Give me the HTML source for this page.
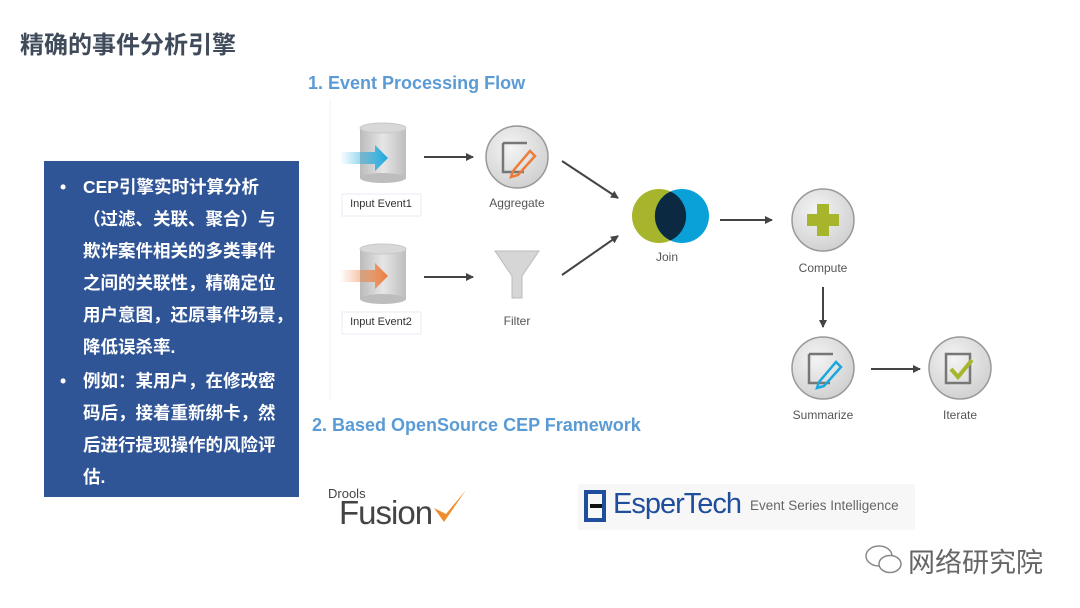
<!DOCTYPE html>
<html><head><meta charset="utf-8"><style>
*{margin:0;padding:0}
body{width:1080px;height:608px;background:#fff;position:relative;overflow:hidden;font-family:"Liberation Sans","Noto Sans CJK SC",sans-serif}
.a{position:absolute;white-space:nowrap}
.t{font-size:24px;font-weight:bold;color:#3f4a5a}
.h{font-size:18px;font-weight:bold;color:#5b9bd5}
.bl{font-size:17.5px;font-weight:bold;color:#fff;line-height:32px}
.lb{font-size:12px;color:#555;transform:translateX(-50%)}
</style></head><body>
<div class="a t" style="left:20px;top:25px">精确的事件分析引擎</div>
<div class="a" style="left:44px;top:161px;width:255px;height:336px;background:#2f5597"></div>
<div class="a bl" style="left:60px;top:171px">•</div>
<div class="a bl" style="left:60px;top:365px">•</div>
<div class="a bl" style="left:83px;top:171px">CEP引擎实时计算分析<br>（过滤、关联、聚合）与<br>欺诈案件相关的多类事件<br>之间的关联性，精确定位<br>用户意图，还原事件场景，<br>降低误杀率.</div>
<div class="a bl" style="left:83px;top:365px">例如：某用户，在修改密<br>码后，接着重新绑卡，然<br>后进行提现操作的风险评<br>估.</div>
<div class="a h" style="left:308px;top:73px">1. Event Processing Flow</div>
<div class="a h" style="left:312px;top:415px">2. Based OpenSource CEP Framework</div>
<svg class="a" style="left:0;top:0" width="1080" height="608">
<defs>
<linearGradient id="cy" x1="0" x2="1"><stop offset="0" stop-color="#bbb"/><stop offset=".5" stop-color="#e6e6e6"/><stop offset="1" stop-color="#bdbdbd"/></linearGradient>
<radialGradient id="ci" cx=".4" cy=".35" r=".7"><stop offset="0" stop-color="#f4f4f4"/><stop offset="1" stop-color="#cfcfcf"/></radialGradient>
<linearGradient id="bA" x1="0" x2="1"><stop offset="0" stop-color="#1aa7dd" stop-opacity="0"/><stop offset="1" stop-color="#1aa7dd"/></linearGradient>
<linearGradient id="oA" x1="0" x2="1"><stop offset="0" stop-color="#ec7c3a" stop-opacity="0"/><stop offset="1" stop-color="#ec7c3a"/></linearGradient>
<marker id="m" markerWidth="8" markerHeight="8" refX="7" refY="4" orient="auto" markerUnits="userSpaceOnUse"><path d="M0,0 L8,4 L0,8z" fill="#444"/></marker>
</defs>
<line x1="330" y1="100" x2="330" y2="400" stroke="#f0f0f0"/>
<g><rect x="360" y="128" width="46" height="50" fill="url(#cy)"/><ellipse cx="383" cy="178" rx="23" ry="5" fill="#bdbdbd"/><ellipse cx="383" cy="128" rx="23" ry="5" fill="#d8d8d8" stroke="#c8c8c8"/></g>
<g><rect x="360" y="249" width="46" height="50" fill="url(#cy)"/><ellipse cx="383" cy="299" rx="23" ry="5" fill="#bdbdbd"/><ellipse cx="383" cy="249" rx="23" ry="5" fill="#d8d8d8" stroke="#c8c8c8"/></g>
<path d="M340,152 H375 V145 L388,158 L375,171 V164 H340z" fill="url(#bA)"/>
<path d="M340,270 H375 V263 L388,276 L375,289 V282 H340z" fill="url(#oA)"/>
<rect x="342" y="194" width="79" height="22" fill="#fff" stroke="#e6eef6"/>
<rect x="342" y="312" width="79" height="22" fill="#fff" stroke="#e6eef6"/>
<g stroke="#444" stroke-width="2" marker-end="url(#m)">
<line x1="424" y1="157" x2="473" y2="157"/><line x1="424" y1="277" x2="473" y2="277"/>
<line x1="562" y1="161" x2="618" y2="198"/><line x1="562" y1="275" x2="618" y2="236"/>
<line x1="720" y1="220" x2="772" y2="220"/><line x1="823" y1="287" x2="823" y2="327"/>
<line x1="871" y1="369" x2="920" y2="369"/>
</g>
<g stroke="#999" stroke-width="1.5" fill="url(#ci)">
<circle cx="517" cy="157" r="31"/><circle cx="823" cy="220" r="31"/><circle cx="823" cy="368" r="31"/><circle cx="960" cy="368" r="31"/>
</g>
<g fill="none" stroke="#777" stroke-width="2.5">
<path d="M503,143 H527 M503,143 V172 H524"/><path d="M809,354 H833 M809,354 V383 H830"/><path d="M946,354 H970 V383 H946z"/>
</g>
<path d="M513,171 L530,151 L535,156 L518,175 L511,177z" fill="none" stroke="#ec7c3a" stroke-width="2.5"/>
<path d="M819,382 L836,362 L841,367 L824,386 L817,388z" fill="none" stroke="#1aa7dd" stroke-width="2.5"/>
<path d="M951,369 L958,377 L972,360" fill="none" stroke="#a7b52c" stroke-width="4"/>
<path d="M817,204 h12 v10 h10 v12 h-10 v10 h-12 v-10 h-10 v-12 h10z" fill="#a7b52c"/>
<path d="M495,251 H539 L522,276 V298 H512 V276z" fill="#d6d6d6" stroke="#bbb"/>
<circle cx="659" cy="216" r="27" fill="#a7b52c"/><circle cx="682" cy="216" r="27" fill="#0aa0d8"/>
<path d="M670.5,191.5 A27,27 0 0 1 670.5,240.5 A27,27 0 0 1 670.5,191.5z" fill="#0b2a42"/>
</svg>
<div class="a lb" style="left:381px;top:198px;font-size:11px;color:#333">Input Event1</div>
<div class="a lb" style="left:381px;top:316px;font-size:11px;color:#333">Input Event2</div>
<div class="a lb" style="left:517px;top:196px">Aggregate</div>
<div class="a lb" style="left:517px;top:314px">Filter</div>
<div class="a lb" style="left:667px;top:250px">Join</div>
<div class="a lb" style="left:823px;top:261px">Compute</div>
<div class="a lb" style="left:823px;top:408px">Summarize</div>
<div class="a lb" style="left:960px;top:408px">Iterate</div>
<div class="a" style="left:328px;top:486px;font-size:13px;color:#444">Drools</div>
<div class="a" style="left:339px;top:494px;font-size:33px;color:#444;letter-spacing:-1px">Fusion</div>
<svg class="a" style="left:430px;top:488px" width="40" height="42"><path d="M4,20 L14,34 L36,2 L16,26z" fill="#f08c2a"/></svg>
<div class="a" style="left:578px;top:484px;width:337px;height:46px;background:#f7f7f7"></div>
<svg class="a" style="left:582px;top:488px" width="28" height="36"><rect x="2" y="2" width="22" height="4" fill="#1f4e9c"/><rect x="2" y="30" width="22" height="4" fill="#1f4e9c"/><rect x="2" y="2" width="4" height="32" fill="#1f4e9c"/><rect x="20" y="2" width="4" height="32" fill="#1f4e9c"/><rect x="8" y="16" width="12" height="4" fill="#111"/></svg>
<div class="a" style="left:613px;top:488px;font-size:29px;color:#1f4e9c;letter-spacing:-1px">EsperTech</div>
<div class="a" style="left:750px;top:498px;font-size:13.5px;color:#666">Event Series Intelligence</div>
<svg class="a" style="left:864px;top:543px" width="40" height="34"><ellipse cx="15" cy="13" rx="13" ry="10" fill="none" stroke="#888" stroke-width="1.5"/><ellipse cx="26" cy="21" rx="11" ry="8.5" fill="#fff" stroke="#888" stroke-width="1.5"/></svg>
<div class="a" style="left:908px;top:541px;font-size:27px;color:#666">网络研究院</div>
</body></html>
